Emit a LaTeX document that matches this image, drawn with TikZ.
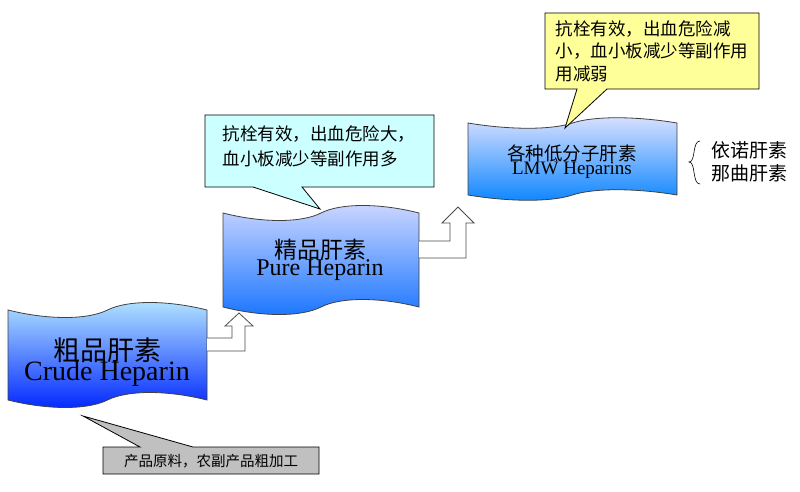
\documentclass[tikz,border=0pt]{standalone}
\usepackage{fontspec}
\setmainfont{Liberation Serif}
\newfontfamily\cjk{Noto Sans CJK SC}
\usepackage{tikz}
\usetikzlibrary{positioning, calc}

\definecolor{tapeline}{HTML}{404040}
\definecolor{noteCyan}{HTML}{CCFFFF}
\definecolor{noteYellow}{HTML}{FFFF99}
\definecolor{noteGrey}{HTML}{C0C0C0}

% x0, y0, width, height, wave
\newcommand{\tapeshape}[5]{%
  (#1,#2) .. controls ({#1+0.2*#3},{#2+#5}) and ({#1+0.4*#3},{#2+#5}) .. ({#1+0.5*#3},#2)
  .. controls ({#1+0.6*#3},{#2-#5}) and ({#1+0.8*#3},{#2-#5}) .. ({#1+#3},#2)
  -- ({#1+#3},{#2+#4})
  .. controls ({#1+0.8*#3},{#2+#4-#5}) and ({#1+0.6*#3},{#2+#4-#5}) .. ({#1+0.5*#3},{#2+#4})
  .. controls ({#1+0.4*#3},{#2+#4+#5}) and ({#1+0.2*#3},{#2+#4+#5}) .. (#1,{#2+#4}) -- cycle}

\begin{document}
\begin{tikzpicture}[x=1pt, y=-1pt]
  \tikzset{
    tape/.style={draw=tapeline, line width=0.8pt},
    note/.style={draw=black, line width=0.8pt},
    bent/.style={draw=black!70, fill=white, line width=0.8pt},
    label/.style={align=center, inner sep=0pt}
  }
  \useasboundingbox[fill=white] (0,0) rectangle (800,492);

  % tapes
  \shade[tape, top color=blue!35!cyan!30, bottom color=blue!85!cyan] \tapeshape{8}{310}{199}{90}{10};
  \shade[tape, top color=cyan!20!blue!20, bottom color=blue!60!cyan!90] \tapeshape{223}{213}{196}{94}{10};
  \shade[tape, top color=cyan!20!blue!15, bottom color=blue!50!cyan!95] \tapeshape{468}{123}{209}{72}{7};

  \node (crude) [label] at (107,362) {{\cjk\fontsize{27}{32}\selectfont 粗品肝素}\\[-2pt]{\fontsize{28}{32}\selectfont Crude Heparin}};
  \node (pure) [label] at (320,260) {{\cjk\fontsize{23}{27}\selectfont 精品肝素}\\[-2pt]{\fontsize{24}{27}\selectfont Pure Heparin}};
  \node (lmw) [label] at (572,162) {{\cjk\fontsize{18.5}{21}\selectfont 各种低分子肝素}\\[-1pt]{\fontsize{19}{21}\selectfont LMW Heparins}};

  % bent arrows
  \draw[bent] (207,338) -- (232,338) -- (232,326) -- (225,326) -- (239,313) -- (253,326)
    -- (245,326) -- (245,351) -- (207,351);
  \draw[bent] (419,241) -- (450,241) -- (450,223) -- (442,223) -- (458,207) -- (474,223)
    -- (466,223) -- (466,258) -- (419,258);

  % notes
  \draw[note, fill=noteCyan] (205,115) -- (434,115) -- (434,187) -- (302,187) -- (320,209)
    -- (253,187) -- (205,187) -- cycle;
  \node (pureNote) [label, align=left, font=\cjk\fontsize{17.5}{25}\selectfont] at (319,146)
    {抗栓有效，出血危险大，\\血小板减少等副作用多};

  \draw[note, fill=noteYellow] (545,13) -- (759,13) -- (759,89) -- (607,89) -- (565,128)
    -- (577,89) -- (545,89) -- cycle;
  \node (lmwNote) [label, align=left, font=\cjk\fontsize{17.5}{22.5}\selectfont] at (652,51)
    {抗栓有效，出血危险减\\小，血小板减少等副作用\\用减弱};

  \draw[note, fill=noteGrey] (103,447) -- (140,447) -- (83,416) -- (193,447) -- (319,447)
    -- (319,474) -- (103,474) -- cycle;
  \node (crudeNote) [label, font=\cjk\fontsize{14.5}{17}\selectfont] at (211,461)
    {产品原料，农副产品粗加工};

  % brand names
  \node (brands) [label, align=left, font=\cjk\fontsize{19}{22.5}\selectfont, anchor=west] at (711,162)
    {依诺肝素\\那曲肝素};
  \draw[line width=0.6pt] (700,141) .. controls (692,141) and (696,162) .. (689,162)
    .. controls (696,162) and (692,184) .. (700,184);
\end{tikzpicture}
\end{document}
